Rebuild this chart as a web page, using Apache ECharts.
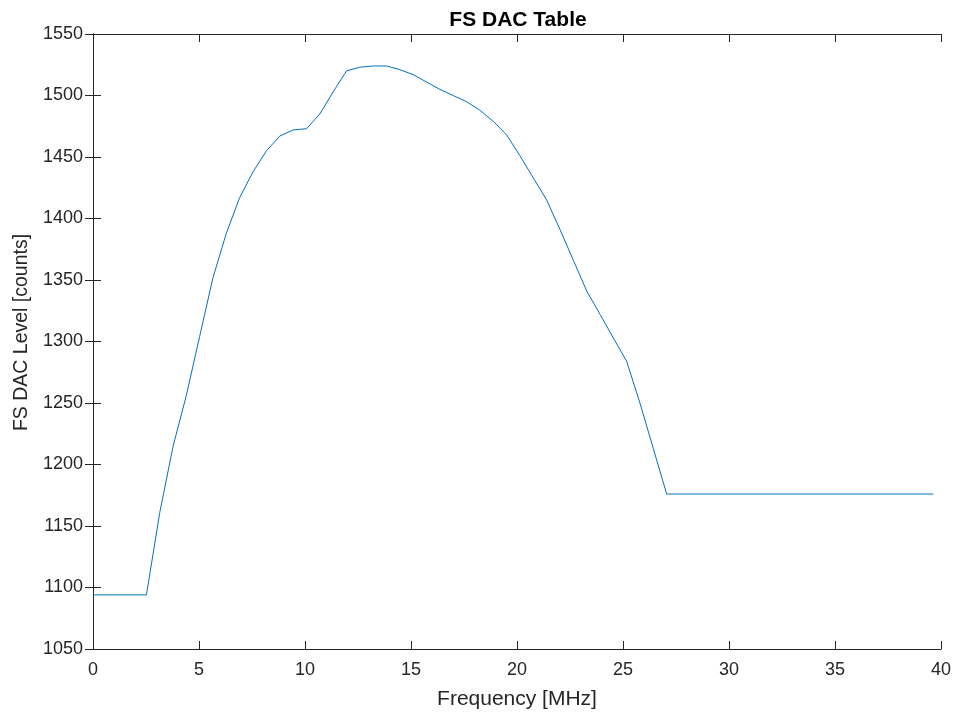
<!DOCTYPE html>
<html>
<head>
<meta charset="utf-8">
<title>FS DAC Table</title>
<script src="https://cdn.jsdelivr.net/npm/echarts@6/dist/echarts.min.js"></script>
<style>
  html, body { margin: 0; padding: 0; background: #ffffff; }
  #chart { width: 954px; height: 715px; }
</style>
</head>
<body>
<div id="chart"></div>
<script>
// Frequency points of the DAC table [MHz]
const freqMHz = [
  0, 2.52, 3.15, 3.78, 4.40, 5.03, 5.66, 6.29, 6.92, 7.55,
  8.18, 8.81, 9.44, 10.07, 10.70, 11.33, 11.96, 12.59, 13.22, 13.85,
  14.47, 15.10, 15.73, 16.36, 16.99, 17.62, 18.25, 18.88, 19.51, 20.14,
  20.77, 21.40, 22.03, 22.66, 23.29, 23.92, 24.54, 25.17, 25.80, 26.43,
  27.06, 39.64
];
// Full-scale DAC level at each frequency [counts]
const dacLevel = [
  1094, 1094, 1161, 1215, 1256, 1304, 1352, 1388, 1417, 1438,
  1455, 1467, 1472, 1473, 1485, 1503, 1520, 1523, 1524, 1524,
  1521, 1517, 1511, 1505, 1500, 1495, 1488, 1479, 1468, 1451,
  1433, 1415, 1391, 1366, 1341, 1322, 1303, 1284, 1250, 1213,
  1176, 1176
];
const xTicks = [0, 5, 10, 15, 20, 25, 30, 35, 40];
const yTicks = [1050, 1100, 1150, 1200, 1250, 1300, 1350, 1400, 1450, 1500, 1550];

const FONT = '"Liberation Sans", Arial, Helvetica, sans-serif';
const INK = '#262626';

const boxLine = { show: true, lineStyle: { color: INK, width: 1 } };
const inTicks = { show: true, inside: true, length: 8, lineStyle: { color: INK, width: 1 } };
const plain = v => String(v);

const chart = echarts.init(document.getElementById('chart'), null, { renderer: 'canvas' });
chart.setOption({
  animation: false,
  backgroundColor: '#ffffff',
  title: {
    text: 'FS DAC Table',
    left: 513, top: 5, textAlign: 'center',
    textStyle: { fontFamily: FONT, fontSize: 21, fontWeight: 'bold', color: '#000000' }
  },
  grid: { left: 93, right: 13, top: 34, bottom: 65, containLabel: false },
  xAxis: [
    {
      type: 'value', min: xTicks[0], max: xTicks[xTicks.length - 1], interval: 5,
      position: 'bottom',
      name: 'Frequency [MHz]', nameLocation: 'middle', nameGap: 40,
      nameTextStyle: { fontFamily: FONT, fontSize: 21, color: INK },
      axisLine: boxLine, axisTick: inTicks,
      axisLabel: { fontFamily: FONT, fontSize: 18, color: INK, margin: 12, formatter: plain },
      splitLine: { show: false }
    },
    {
      type: 'value', min: xTicks[0], max: xTicks[xTicks.length - 1], interval: 5,
      position: 'top',
      axisLine: boxLine, axisTick: inTicks,
      axisLabel: { show: false }, splitLine: { show: false }
    }
  ],
  yAxis: [
    {
      type: 'value', min: yTicks[0], max: yTicks[yTicks.length - 1], interval: 50,
      position: 'left',
      name: 'FS DAC Level [counts]', nameLocation: 'middle', nameGap: 57,
      nameTextStyle: { fontFamily: FONT, fontSize: 19.5, color: INK, padding: [0, 0, 0, 18] },
      axisLine: boxLine, axisTick: inTicks,
      axisLabel: { fontFamily: FONT, fontSize: 18, color: INK, margin: 10, formatter: plain },
      splitLine: { show: false }
    },
    {
      type: 'value', min: yTicks[0], max: yTicks[yTicks.length - 1], interval: 50,
      position: 'right',
      axisLine: boxLine, axisTick: inTicks,
      axisLabel: { show: false }, splitLine: { show: false }
    }
  ],
  series: [{
    type: 'line',
    xAxisIndex: 0, yAxisIndex: 0,
    data: freqMHz.map((f, i) => [f, dacLevel[i]]),
    showSymbol: false,
    lineStyle: { color: '#0072BD', width: 1 },
    itemStyle: { color: '#0072BD' }
  }]
});
</script>
</body>
</html>
